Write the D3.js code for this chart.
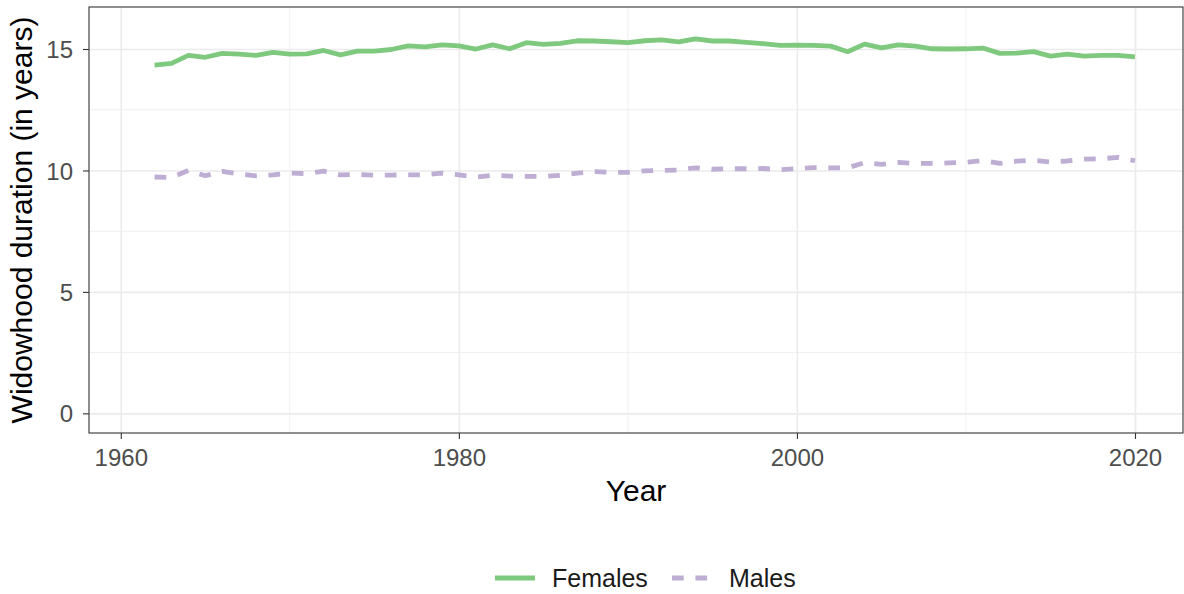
<!DOCTYPE html>
<html>
<head>
<meta charset="utf-8">
<script src="https://cdn.jsdelivr.net/npm/d3@7"></script>
<style>
    body { margin: 0; background: #fff; }
    text { font-family: "Liberation Sans", Arial, sans-serif; }
</style>
</head>
<body>
<div id="chart"></div>
<script>
// Data
const years = d3.range(1962, 2021);
const females = [
    14.34, 14.41, 14.74, 14.66, 14.82, 14.79, 14.74, 14.86, 14.79, 14.80,
    14.94, 14.76, 14.91, 14.91, 14.98, 15.13, 15.09, 15.17, 15.13, 15.00,
    15.17, 15.01, 15.26, 15.19, 15.23, 15.34, 15.33, 15.30, 15.26, 15.34,
    15.38, 15.29, 15.42, 15.33, 15.33, 15.27, 15.22, 15.15, 15.16, 15.15,
    15.12, 14.89, 15.20, 15.05, 15.17, 15.12, 15.01, 15.00, 15.01, 15.04,
    14.82, 14.83, 14.89, 14.71, 14.79, 14.71, 14.74, 14.74, 14.68
];
const males = [
    9.73, 9.71, 10.00, 9.78, 9.96, 9.85, 9.78, 9.82, 9.89, 9.87,
    9.97, 9.82, 9.83, 9.81, 9.81, 9.82, 9.82, 9.89, 9.82, 9.73,
    9.80, 9.77, 9.76, 9.75, 9.80, 9.89, 9.95, 9.92, 9.92, 9.98,
    10.00, 10.02, 10.11, 10.05, 10.07, 10.07, 10.08, 10.03, 10.08, 10.12,
    10.11, 10.11, 10.32, 10.25, 10.33, 10.29, 10.29, 10.31, 10.34, 10.41,
    10.29, 10.38, 10.42, 10.35, 10.39, 10.47, 10.48, 10.54, 10.40
];
const seriesNames = ["Females", "Males"];
const xTicks = [1960, 1980, 2000, 2020];
const xMinor = [1970, 1990, 2010];
const yTicks = [0, 5, 10, 15];
const yMinor = [2.5, 7.5, 12.5];

const colors = {Females: "#7FC97F", Males: "#BEAED4"};
const dashes = {Females: null, Males: "11.7 11.7"};

// Dimensions
const W = 1184, H = 594;
const margin = {top: 7, right: 1, bottom: 161, left: 89};
const width = W - margin.left - margin.right;
const height = H - margin.top - margin.bottom;

const x = d3.scaleLinear()
    .domain([1958.12, 2022.84])
    .range([0, width]);

const y = d3.scaleLinear()
    .domain([-0.81, 16.73])
    .range([height, 0]);

const svg = d3.select("#chart")
    .append("svg")
    .attr("width", W)
    .attr("height", H);

const g = svg.append("g")
    .attr("transform", `translate(${margin.left}, ${margin.top})`);

// Minor gridlines
g.append("g")
    .selectAll("line.ymin")
    .data(yMinor)
    .join("line")
    .attr("x1", 0).attr("x2", width)
    .attr("y1", d => y(d)).attr("y2", d => y(d))
    .attr("stroke", "#ebebeb").attr("stroke-width", 0.8);

g.append("g")
    .selectAll("line.xmin")
    .data(xMinor)
    .join("line")
    .attr("y1", 0).attr("y2", height)
    .attr("x1", d => x(d)).attr("x2", d => x(d))
    .attr("stroke", "#ebebeb").attr("stroke-width", 0.8);

// Major gridlines
g.append("g")
    .call(d3.axisLeft(y).tickValues(yTicks).tickSize(-width).tickFormat(""))
    .call(a => a.select(".domain").remove())
    .selectAll("line")
    .attr("stroke", "#ebebeb").attr("stroke-width", 1.6);

g.append("g")
    .attr("transform", `translate(0, ${height})`)
    .call(d3.axisBottom(x).tickValues(xTicks).tickSize(-height).tickFormat(""))
    .call(a => a.select(".domain").remove())
    .selectAll("line")
    .attr("stroke", "#ebebeb").attr("stroke-width", 1.6);

// Lines
const lineGen = d3.line()
    .x((d, i) => x(years[i]))
    .y(d => y(d));

const series = [
    {name: "Females", values: females},
    {name: "Males", values: males}
];

g.selectAll(".series")
    .data(series)
    .join("path")
    .attr("class", "series")
    .attr("d", d => lineGen(d.values))
    .attr("fill", "none")
    .attr("stroke", d => colors[d.name])
    .attr("stroke-width", 4.8)
    .attr("stroke-linejoin", "round")
    .attr("stroke-dasharray", d => dashes[d.name]);

// Panel border
g.append("rect")
    .attr("width", width)
    .attr("height", height)
    .attr("fill", "none")
    .attr("stroke", "#333333")
    .attr("stroke-width", 1.1);

// Axes
const yAxis = g.append("g")
    .call(d3.axisLeft(y).tickValues(yTicks).tickSize(6).tickPadding(10));
yAxis.select(".domain").remove();
yAxis.selectAll(".tick line").attr("stroke", "#333333").attr("stroke-width", 1.1);
yAxis.selectAll(".tick text")
    .attr("fill", "#4d4d4d")
    .style("font-size", "24px")
    .attr("dy", "0.36em");

const xAxis = g.append("g")
    .attr("transform", `translate(0, ${height})`)
    .call(d3.axisBottom(x).tickValues(xTicks).tickFormat(d3.format("d")).tickSize(6).tickPadding(10));
xAxis.select(".domain").remove();
xAxis.selectAll(".tick line").attr("stroke", "#333333").attr("stroke-width", 1.1);
xAxis.selectAll(".tick text")
    .attr("fill", "#4d4d4d")
    .style("font-size", "24px");

// Axis titles
svg.append("text")
    .attr("x", margin.left + width / 2)
    .attr("y", 501)
    .attr("text-anchor", "middle")
    .attr("fill", "#000")
    .style("font-size", "30px")
    .text("Year");

svg.append("text")
    .attr("transform", `translate(32, ${margin.top + height / 2}) rotate(-90)`)
    .attr("text-anchor", "middle")
    .attr("fill", "#000")
    .style("font-size", "30px")
    .text("Widowhood duration (in years)");

// Legend
const legendY = 578;
const legendItems = [
    {name: "Females", x0: 495},
    {name: "Males", x0: 672}
];
const legend = svg.append("g");
legend.selectAll("line")
    .data(legendItems)
    .join("line")
    .attr("x1", d => d.x0).attr("x2", d => d.x0 + 40)
    .attr("y1", legendY).attr("y2", legendY)
    .attr("stroke", d => colors[d.name])
    .attr("stroke-width", 4.8)
    .attr("stroke-dasharray", d => d.name === "Males" ? "11.7 11.7" : null);

legend.selectAll("text")
    .data(legendItems)
    .join("text")
    .attr("x", d => d.x0 + 57)
    .attr("y", legendY)
    .attr("dy", "0.36em")
    .attr("fill", "#1a1a1a")
    .style("font-size", "25px")
    .text(d => d.name);
</script>
</body>
</html>
